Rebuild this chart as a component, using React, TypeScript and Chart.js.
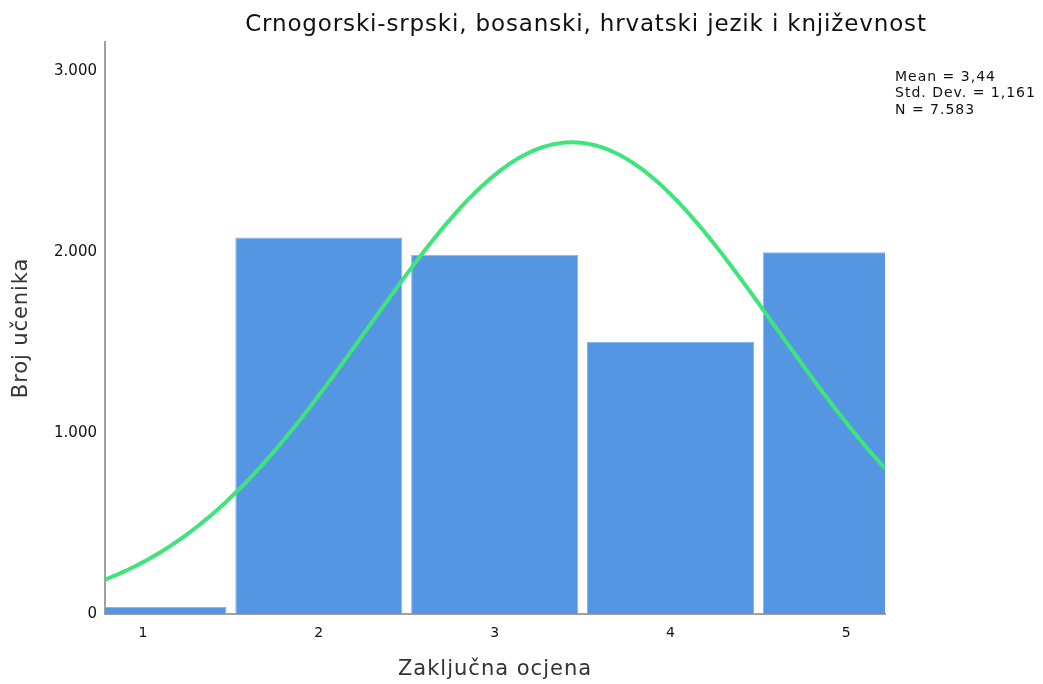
import React, { useEffect, useRef } from "react";
import { Chart, registerables } from "chart.js";

Chart.register(...registerables);

const TITLE = "Crnogorski-srpski, bosanski, hrvatski jezik i književnost";
const X_TITLE = "Zaključna ocjena";
const Y_TITLE = "Broj učenika";
const GRADES = [1, 2, 3, 4, 5];
const COUNTS = [38, 2080, 1985, 1503, 1998];
const X_TICKS = [1, 2, 3, 4, 5];
const Y_TICKS = [0, 1000, 2000, 3000];
const MEAN = 3.44;
const STD_DEV = 1.161;
const N = 7583;
const STATS_LINES = ["Mean = 3,44", "Std. Dev. = 1,161", "N = 7.583"];
const X_MIN = 0.784;
const X_MAX = 5.22;
const Y_MAX = 3160;

const FONT = "'DejaVu Sans', Verdana, sans-serif";

function fmtThousands(v: number): string {
  return String(Math.round(v)).replace(/\B(?=(\d{3})+(?!\d))/g, ".");
}

// Fitted normal curve (bin width 1) from the stated mean, SD and N
function normalCurve() {
  const pts: { x: number; y: number }[] = [];
  const steps = 300;
  for (let i = 0; i <= steps; i++) {
    const x = X_MIN + ((X_MAX - X_MIN) * i) / steps;
    const z = (x - MEAN) / STD_DEV;
    const y = (N / (STD_DEV * Math.sqrt(2 * Math.PI))) * Math.exp(-0.5 * z * z);
    pts.push({ x, y });
  }
  return pts;
}

const textPlugin = {
  id: "texts",
  afterDraw(chart: any) {
    const ctx = chart.ctx;
    const ca = chart.chartArea;
    ctx.save();
    ctx.fillStyle = "#111";
    ctx.textBaseline = "middle";
    ctx.textAlign = "center";
    ctx.font = `23px ${FONT}`;
    (ctx as any).letterSpacing = "0.85px";
    ctx.fillText(TITLE, 586, 25);

    ctx.fillStyle = "#333";
    ctx.font = `21px ${FONT}`;
    (ctx as any).letterSpacing = "1px";
    ctx.fillText(X_TITLE, (ca.left + ca.right) / 2, 670);

    ctx.save();
    ctx.translate(22, (ca.top + ca.bottom) / 2);
    ctx.rotate(-Math.PI / 2);
    (ctx as any).letterSpacing = "0.9px";
    ctx.fillText(Y_TITLE, 0, 0);
    ctx.restore();

    ctx.fillStyle = "#111";
    ctx.textAlign = "left";
    ctx.font = `14px ${FONT}`;
    (ctx as any).letterSpacing = "1px";
    STATS_LINES.forEach((t, i) => {
      ctx.fillText(t, 895, 77 + i * 16.5);
    });
    ctx.restore();
  },
};

export default function App() {
  const ref = useRef<HTMLCanvasElement | null>(null);

  useEffect(() => {
    if (!ref.current) return;
    const chart = new Chart(ref.current, {
      type: "bar",
      data: {
        datasets: [
          {
            type: "line",
            data: normalCurve(),
            borderColor: "#3fe57a",
            borderWidth: 4,
            pointRadius: 0,
            tension: 0,
            fill: false,
            order: 0,
          } as any,
          {
            type: "bar",
            data: GRADES.map((g, i) => ({ x: g, y: COUNTS[i] })),
            backgroundColor: "#5596e3",
            borderColor: "#86b5ee",
            borderWidth: 1,
            barPercentage: 0.95,
            categoryPercentage: 1,
            order: 1,
          } as any,
        ],
      },
      options: {
        animation: false,
        responsive: false,
        maintainAspectRatio: false,
        layout: { padding: { top: 42, right: 158, left: 0, bottom: 0 } },
        plugins: {
          legend: { display: false },
          tooltip: { enabled: false },
          title: { display: false },
        },
        scales: {
          x: {
            type: "linear",
            min: X_MIN,
            max: X_MAX,
            offset: false,
            grid: { display: false, drawTicks: false },
            border: { display: true, color: "#a0a0a0", width: 2 },
            afterBuildTicks: (scale: any) => {
              scale.ticks = X_TICKS.map((v) => ({ value: v }));
            },
            afterFit: (scale: any) => {
              scale.height = 70;
            },
            ticks: {
              autoSkip: false,
              maxRotation: 0,
              padding: 11,
              color: "#111",
              font: { family: FONT, size: 14 },
              callback: (v: any) => String(v),
            },
          },
          y: {
            type: "linear",
            min: 0,
            max: Y_MAX,
            grid: { display: false, drawTicks: false },
            border: { display: true, color: "#a0a0a0", width: 2 },
            afterBuildTicks: (scale: any) => {
              scale.ticks = Y_TICKS.map((v) => ({ value: v }));
            },
            afterFit: (scale: any) => {
              scale.width = 105;
            },
            ticks: {
              padding: 8,
              color: "#111",
              font: { family: FONT, size: 15 },
              callback: (v: any) => fmtThousands(Number(v)),
            },
          },
        },
      },
      plugins: [textPlugin],
    });
    return () => chart.destroy();
  }, []);

  return (
    <div style={{ position: "fixed", left: 0, top: 0, width: 1043, height: 684, background: "#fff" }}>
      <canvas ref={ref} width={1043} height={684} style={{ width: 1043, height: 684 }} />
    </div>
  );
}
